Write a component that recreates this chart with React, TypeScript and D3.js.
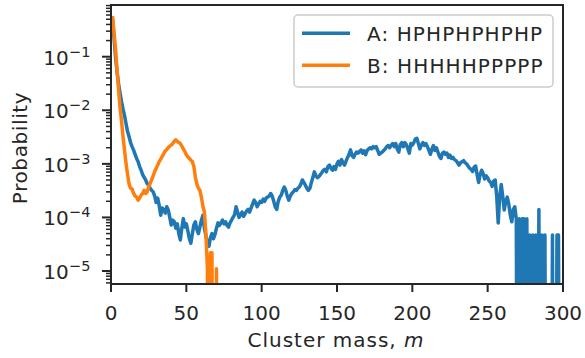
import React from "react";
import * as d3 from "d3";

// ---------------- data ----------------
// Cluster mass m = 1, 2, 3, ... (index + 1)
const probA: number[] = [
  0.5, 0.224, 0.1, 0.0525, 0.0316, 0.0209, 0.0145, 0.0105, 7.9e-3, 5.6e-3,
  4.0e-3, 3.2e-3, 2.5e-3, 2.1e-3, 1.8e-3, 1.5e-3, 1.26e-3, 1.1e-3, 8.9e-4, 7.6e-4,
  6.3e-4, 5.6e-4, 5.0e-4, 4.3e-4, 4.0e-4, 3.5e-4, 3.2e-4, 3.0e-4, 2.5e-4, 1.9e-4,
  2.3e-4, 1.66e-4, 1.1e-4, 1.5e-4, 1.4e-4, 1.2e-4, 1.58e-4, 1.38e-4, 1.0e-4, 7.2e-5,
  8.9e-5, 8.3e-5, 6.3e-5, 7.6e-5, 5.0e-5, 3.8e-5, 6.3e-5, 9.5e-5, 6.6e-5, 7.6e-5,
  5.6e-5, 4.0e-5, 3.3e-5, 5.0e-5, 7.2e-5, 8.3e-5, 6.0e-5, 5.0e-5, 6.6e-5, 8.9e-5,
  1.1e-4, 6.3e-5, 4.5e-5, 3.2e-5, 2.9e-5, 4.2e-5, 5.0e-5, 4.0e-5, 4.8e-5, 6.3e-5,
  7.9e-5, 7.1e-5, 7.9e-5, 8.9e-5, 7.6e-5, 8.3e-5, 7.1e-5, 6.6e-5, 7.9e-5, 8.9e-5,
  1.0e-4, 1.12e-4, 1.58e-4, 1.26e-4, 1.0e-4, 1.12e-4, 1.26e-4, 1.05e-4, 1.17e-4, 1.32e-4,
  1.41e-4, 1.26e-4, 1.51e-4, 1.78e-4, 2.1e-4, 1.9e-4, 1.58e-4, 1.78e-4, 2.0e-4, 1.9e-4,
  2.2e-4, 2.0e-4, 2.3e-4, 2.4e-4, 2.5e-4, 2.8e-4, 2.5e-4, 2.0e-4, 1.58e-4, 1.41e-4,
  2.0e-4, 2.4e-4, 2.6e-4, 3.2e-4, 3.7e-4, 3.2e-4, 2.5e-4, 2.1e-4, 2.5e-4, 2.8e-4,
  3.0e-4, 3.3e-4, 3.2e-4, 3.5e-4, 3.7e-4, 4.2e-4, 5.0e-4, 4.5e-4, 4.0e-4, 3.5e-4,
  3.2e-4, 3.5e-4, 4.5e-4, 5.6e-4, 7.1e-4, 6.0e-4, 5.5e-4, 5.8e-4, 6.3e-4, 6.9e-4,
  7.6e-4, 7.9e-4, 7.1e-4, 8.9e-4, 9.5e-4, 8.3e-4, 7.6e-4, 8.9e-4, 7.9e-4, 1.0e-3,
  1.12e-3, 9.5e-4, 1.2e-3, 1.05e-3, 9.5e-4, 1.12e-3, 1.32e-3, 1.51e-3, 1.82e-3, 1.41e-3,
  1.32e-3, 1.51e-3, 1.66e-3, 1.58e-3, 1.7e-3, 1.82e-3, 1.58e-3, 1.74e-3, 1.48e-3, 1.78e-3,
  1.9e-3, 2.0e-3, 1.9e-3, 2.1e-3, 2.0e-3, 2.1e-3, 1.78e-3, 1.51e-3, 1.58e-3, 1.66e-3,
  1.78e-3, 1.9e-3, 2.1e-3, 2.2e-3, 2.0e-3, 2.24e-3, 2.4e-3, 2.1e-3, 2.4e-3, 1.9e-3,
  1.66e-3, 2.3e-3, 2.5e-3, 2.1e-3, 2.5e-3, 2.3e-3, 1.9e-3, 1.58e-3, 2.4e-3, 2.24e-3,
  2.5e-3, 2.9e-3, 3.0e-3, 2.4e-3, 1.9e-3, 2.24e-3, 2.5e-3, 2.2e-3, 2.4e-3, 2.1e-3,
  1.78e-3, 1.51e-3, 1.9e-3, 2.2e-3, 1.78e-3, 2.0e-3, 1.66e-3, 1.38e-3, 1.26e-3, 1.58e-3,
  1.66e-3, 1.51e-3, 1.58e-3, 1.32e-3, 1.45e-3, 1.26e-3, 1.32e-3, 1.2e-3, 1.15e-3, 1.05e-3,
  9.5e-4, 1.05e-3, 1.1e-3, 1.15e-3, 1.05e-3, 1.0e-3, 9.1e-4, 8.3e-4, 7.9e-4, 7.2e-4,
  8.7e-4, 9.1e-4, 6.3e-4, 4.5e-4, 6.3e-4, 7.6e-4, 6.6e-4, 5.2e-4, 6.0e-4, 5.5e-4,
  4.8e-4, 4.5e-4, 3.8e-4, 4.8e-4, 5.0e-4, 2.5e-4, 7.9e-5, 2.5e-4, 4.1e-4, 2.5e-4,
  1.38e-4, 2.0e-4, 2.4e-4, 1.78e-4, 1.12e-4, 8.3e-5, 1.41e-4, 1.58e-4, 9.4e-5, 0,
  9.4e-5, 0, 9.4e-5, 9.4e-5, 0, 9.4e-5, 0, 4.7e-5, 0, 4.7e-5,
  0, 4.7e-5, 0, 1.4e-4, 0, 4.7e-5, 0, 4.7e-5, 0, 0,
  0, 0, 4.7e-5, 0, 0, 4.7e-5, 4.7e-5, 0,
];

const probB: number[] = [
  0.575, 0.282, 0.141, 0.0562, 0.0251, 0.0112, 6.3e-3, 3.16e-3, 1.78e-3, 1.0e-3,
  6.3e-4, 4.2e-4, 3.5e-4, 3.4e-4, 2.8e-4, 2.5e-4, 2.4e-4, 2.1e-4, 2.3e-4, 2.6e-4,
  2.8e-4, 3.2e-4, 2.8e-4, 3.0e-4, 3.7e-4, 4.3e-4, 5.1e-4, 6.0e-4, 7.2e-4, 8.3e-4,
  9.5e-4, 1.1e-3, 1.23e-3, 1.38e-3, 1.55e-3, 1.74e-3, 1.86e-3, 2.0e-3, 2.14e-3, 2.24e-3,
  2.4e-3, 2.63e-3, 2.82e-3, 2.63e-3, 2.5e-3, 2.4e-3, 2.14e-3, 1.9e-3, 1.7e-3, 1.48e-3,
  1.35e-3, 1.26e-3, 1.17e-3, 1.1e-3, 8.9e-4, 5.6e-4, 4.2e-4, 3.5e-4, 3.2e-4, 2.4e-4,
  1.6e-4, 1.26e-4, 5.0e-5, 1.1e-5, 0, 2.2e-5, 2.2e-5, 0, 0, 1.1e-5,
  0,
];

const seriesLabels = ["A: HPHPHPHPHP", "B: HHHHHPPPPP"];
const seriesColors = ["#1f77b4", "#ff7f0e"];
const xTicks = [0, 50, 100, 150, 200, 250, 300];
const yMajorExps = [-1, -2, -3, -4, -5];

// ---------------- layout ----------------
const W = 585;
const H = 358;
const L = 111;
const R = 563;
const T = 5;
const B = 284;
const INK = "#262626";
const FONT = "DejaVu Sans, sans-serif";

const x = d3.scaleLinear().domain([0, 300]).range([L, R]);
const y = d3.scaleLog().domain([5.72e-6, 0.923]).range([B, T]);

const FLOOR = 1e-12;

function pathFor(vals: number[]) {
  const line = d3
    .line<number>()
    .x((_, i) => x(i + 1))
    .y((v) => y(Math.max(v, FLOOR)));
  return line(vals) || "";
}

export default function App() {
  const [d0, d1] = y.domain();
  const minor: number[] = [];
  for (let e = -6; e <= 0; e++) {
    for (let k = 2; k <= 9; k++) {
      const v = k * Math.pow(10, e);
      if (v >= d0 && v <= d1) minor.push(v);
    }
  }
  return (
    <svg
      width={W}
      height={H}
      style={{ position: "absolute", left: 0, top: 0, background: "#fff" }}
      fontFamily={FONT}
    >
      <defs>
        <clipPath id="plotClip">
          <rect x={L} y={T} width={R - L} height={B - T} />
        </clipPath>
      </defs>
      <rect x={0} y={0} width={W} height={H} fill="#fff" />

      {/* data lines */}
      <g clipPath="url(#plotClip)" fill="none" strokeLinejoin="round" strokeLinecap="butt">
        <path d={pathFor(probA)} stroke={seriesColors[0]} strokeWidth={3.5} />
        <path d={pathFor(probB)} stroke={seriesColors[1]} strokeWidth={3.5} />
      </g>

      {/* spines */}
      <rect x={L} y={T} width={R - L} height={B - T} fill="none" stroke={INK} strokeWidth={2} />

      {/* x ticks */}
      {xTicks.map((t) => (
        <g key={"xt" + t}>
          <line x1={x(t)} x2={x(t)} y1={B} y2={B + 8} stroke={INK} strokeWidth={2} />
          <text x={x(t)} y={320} fontSize={20} textAnchor="middle" fill={INK}>
            {t}
          </text>
        </g>
      ))}

      {/* y ticks */}
      {minor.map((v, i) => (
        <line key={"ym" + i} x1={L - 5} x2={L} y1={y(v)} y2={y(v)} stroke={INK} strokeWidth={1.5} />
      ))}
      {yMajorExps.map((e) => {
        const yy = y(Math.pow(10, e));
        return (
          <g key={"yt" + e}>
            <line x1={L - 9} x2={L} y1={yy} y2={yy} stroke={INK} strokeWidth={2} />
            <text x={91} y={yy + 8} fontSize={20} textAnchor="end" fill={INK}>
              <tspan>10</tspan>
              <tspan dy={-8} fontSize={14.5} letterSpacing={0.5}>
                {"\u2212" + Math.abs(e)}
              </tspan>
            </text>
          </g>
        );
      })}

      {/* axis labels */}
      <text x={336} y={347} fontSize={20} textAnchor="middle" fill={INK} letterSpacing={1}>
        Cluster mass, <tspan fontStyle="italic">m</tspan>
      </text>
      <text
        transform={`translate(27, 148) rotate(-90)`}
        fontSize={20}
        textAnchor="middle"
        fill={INK}
        letterSpacing={0.6}
      >
        Probability
      </text>

      {/* legend */}
      <g>
        <rect x={294} y={15} width={259} height={72} rx={4} fill="#fff" fillOpacity={0.8} stroke="#cccccc" strokeWidth={1.5} />
        {seriesLabels.map((s, i) => (
          <g key={s}>
            <line x1={302} x2={350} y1={33.3 + i * 32} y2={33.3 + i * 32} stroke={seriesColors[i]} strokeWidth={3.5} />
            <text x={367} y={40.5 + i * 32} fontSize={20} fill={INK} letterSpacing={1.1}>
              {s}
            </text>
          </g>
        ))}
      </g>
    </svg>
  );
}
